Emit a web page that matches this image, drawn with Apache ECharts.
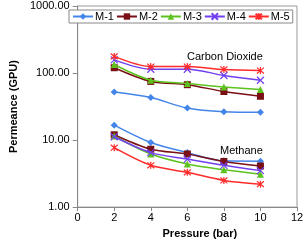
<!DOCTYPE html>
<html><head><meta charset="utf-8">
<script src="https://cdn.jsdelivr.net/npm/echarts@6/dist/echarts.min.js"></script>
<style>html,body{margin:0;padding:0;background:#fff}#c{width:307px;height:244px}</style>
</head><body><div id="c"></div>
<script>
var pressure = [2, 4, 6, 8, 10];
var seriesNames = ['M-1', 'M-2', 'M-3', 'M-4', 'M-5'];
var co2_M1 = [52, 43, 30, 26.4, 25.9];
var co2_M2 = [120, 75, 67, 53, 45];
var co2_M3 = [134, 78, 70, 62, 57];
var co2_M4 = [157, 114, 114, 92, 78];
var co2_M5 = [177, 125, 125, 113, 109];
var ch4_M1 = [16.7, 9.2, 6.5, 4.9, 4.85];
var ch4_M2 = [12, 7.3, 6.2, 4.8, 4.1];
var ch4_M3 = [11.5, 6.2, 4.4, 3.6, 3.1];
var ch4_M4 = [11.2, 6.5, 5.2, 4.2, 3.5];
var ch4_M5 = [7.7, 4.2, 3.3, 2.5, 2.2];
var xTicks = [0, 2, 4, 6, 8, 10, 12];
var yTicks = ['1.00', '10.00', '100.00', '1000.00'];

var colors = ['#4485ea', '#7a0f16', '#5cc21e', '#7040f0', '#ff2a2a'];
var crossPath = 'path://M0,0L10,10M10,0L0,10';
var starPath = 'path://M0,0L10,10M10,0L0,10M5,-1L5,11';
var symbols = ['diamond', 'rect', 'triangle', crossPath, starPath];
var sizes = [7, 7, 7, 7, 7];
var co2 = [co2_M1, co2_M2, co2_M3, co2_M4, co2_M5];
var ch4 = [ch4_M1, ch4_M2, ch4_M3, ch4_M4, ch4_M5];

function mk(name, i, vals) {
  var stroke = i >= 3;
  return {
    name: name, type: 'line', smooth: 0.3,
    data: pressure.map(function (p, k) { return [p, vals[k]]; }),
    symbol: symbols[i], symbolSize: sizes[i],
    lineStyle: { color: colors[i], width: 1.5 },
    itemStyle: stroke ? { color: colors[i], borderColor: colors[i], borderWidth: 1.2 } : { color: colors[i], borderWidth: 0 },
    z: 2 + i
  };
}
var series = [];
seriesNames.forEach(function (n, i) { series.push(mk(n, i, co2[i])); });
seriesNames.forEach(function (n, i) { series.push(mk(n, i, ch4[i])); });

var chart = echarts.init(document.getElementById('c'), null, { renderer: 'canvas' });
chart.setOption({
  animation: false,
  backgroundColor: '#fff',
  textStyle: { fontFamily: 'Liberation Sans, Arial, sans-serif' },
  grid: { left: 64, right: 10, top: 6, bottom: 33, show: true, borderColor: '#999', borderWidth: 1 },
  legend: {
    data: seriesNames, left: 69, top: 10, width: 224,
    backgroundColor: '#fff', borderColor: '#888', borderWidth: 1, borderRadius: 0,
    padding: [1, 3, 1, 3], itemWidth: 20, itemHeight: 8, itemGap: 2,
    textStyle: { fontSize: 11, color: '#000', padding: [0, 0, 0, -3] }
  },
  xAxis: {
    type: 'value', min: 0, max: 12, interval: 2,
    name: 'Pressure (bar)', nameLocation: 'middle', nameGap: 18,
    nameTextStyle: { fontSize: 11, fontWeight: 'bold', color: '#000', padding: [0, 0, 0, 25] },
    axisLine: { show: true, lineStyle: { color: '#888' } },
    axisTick: { show: true, length: 4, lineStyle: { color: '#888' } },
    axisLabel: { fontSize: 11, color: '#000', margin: 5 },
    splitLine: { show: false }
  },
  yAxis: {
    type: 'log', logBase: 10, min: 1, max: 1000,
    name: 'Permeance (GPU)', nameLocation: 'middle', nameGap: 49,
    nameTextStyle: { fontSize: 11, fontWeight: 'bold', color: '#000' },
    axisLine: { show: true, lineStyle: { color: '#888' } },
    axisTick: { show: true, length: 5, lineStyle: { color: '#888' } },
    axisLabel: { fontSize: 11, color: '#000', margin: 8, formatter: function (v) { return yTicks[Math.round(Math.log10(v))]; } },
    splitLine: { show: false }
  },
  graphic: [
    { type: 'text', left: 187, top: 51, style: { text: 'Carbon Dioxide', font: '11px Liberation Sans, Arial', fill: '#000' } },
    { type: 'text', left: 220, top: 145, style: { text: 'Methane', font: '11px Liberation Sans, Arial', fill: '#000' } }
  ],
  series: series
});
</script></body></html>
